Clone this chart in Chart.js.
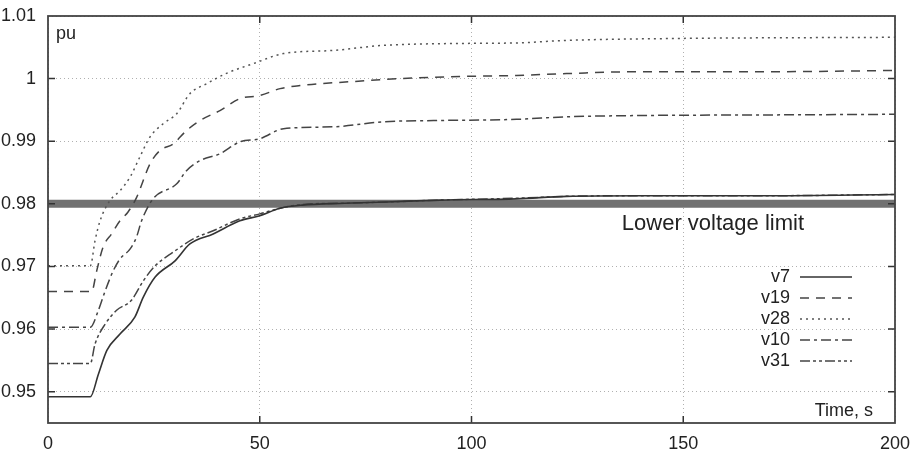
<!DOCTYPE html>
<html>
<head>
<meta charset="utf-8">
<script src="https://cdn.jsdelivr.net/npm/chart.js@4/dist/chart.umd.min.js"></script>
<style>
  html, body { margin: 0; padding: 0; background: #fff; }
  #wrap { width: 911px; height: 469px; position: relative; }
</style>
</head>
<body>
<div id="wrap"><canvas id="voltChart"></canvas></div>
<script>
// time axis ticks and voltage ticks
const xTicks = [0, 50, 100, 150, 200];
const yTicks = [0.95, 0.96, 0.97, 0.98, 0.99, 1.0, 1.01];

// series (time in s, voltage in pu)
const t7  = [0, 10, 11.9, 13.9, 17, 20.5, 22.5, 25.3, 30, 33.5, 39, 45.3, 50, 54.8, 60, 70, 80, 92.6, 110.6, 122.4, 140, 170, 200];
const v7  = [0.9492, 0.9492, 0.9528, 0.9566, 0.9592, 0.9619, 0.9651, 0.9683, 0.9709, 0.9736, 0.9752, 0.9773, 0.9781, 0.9793, 0.9798, 0.9801, 0.9803, 0.9806, 0.9808, 0.9812, 0.9813, 0.9813, 0.9815];

const t19 = [0, 10.3, 11.5, 13, 15, 17, 18.9, 20.9, 24.1, 26.4, 29.6, 32.7, 35.9, 40.6, 45.3, 50, 54.8, 59.5, 71.3, 83.1, 94.9, 110.6, 122.4, 139, 170, 200];
const v19 = [0.9660, 0.9660, 0.9693, 0.9731, 0.9752, 0.9773, 0.9787, 0.9810, 0.9864, 0.9885, 0.9896, 0.9917, 0.9933, 0.9949, 0.9968, 0.9973, 0.9984, 0.9989, 0.9995, 1.0000, 1.0003, 1.0005, 1.0008, 1.0011, 1.0011, 1.0013];

const t28 = [0, 10, 11.1, 12.3, 14.6, 17, 19.4, 21.7, 24.1, 27.2, 30.4, 33.5, 37.5, 42, 48.5, 55.6, 67.3, 79, 94.9, 110.6, 122.4, 146.9, 200];
const v28 = [0.9701, 0.9701, 0.9741, 0.9773, 0.9805, 0.9821, 0.9843, 0.9875, 0.9907, 0.9928, 0.9944, 0.9976, 0.9992, 1.0008, 1.0024, 1.0040, 1.0045, 1.0053, 1.0056, 1.0057, 1.0061, 1.0064, 1.0066];

const t10 = [0, 10, 11.9, 13.5, 15.4, 17, 19.4, 20.9, 22.1, 24.8, 30.4, 32.7, 35.9, 40.6, 45.3, 50, 55.6, 67.3, 79, 91, 110.6, 122.4, 139, 170, 200];
const v10 = [0.9603, 0.9603, 0.9630, 0.9661, 0.9693, 0.9712, 0.9728, 0.9747, 0.9773, 0.9808, 0.9832, 0.9853, 0.9869, 0.9880, 0.9899, 0.9904, 0.9920, 0.9923, 0.9931, 0.9933, 0.9935, 0.9939, 0.9941, 0.9942, 0.9943];

const t31 = [0, 10, 11.1, 13.5, 16.2, 19.7, 22.5, 25.3, 29.6, 34.3, 39, 45.3, 50, 54.8, 60, 70, 80, 92.6, 110.6, 122.4, 140, 170, 200];
const v31 = [0.9545, 0.9545, 0.9576, 0.9608, 0.9630, 0.9646, 0.9677, 0.9701, 0.9723, 0.9744, 0.9757, 0.9776, 0.9784, 0.9793, 0.9799, 0.9801, 0.9803, 0.9806, 0.9809, 0.9812, 0.9813, 0.9813, 0.9815];

const tLimit = [0, 200];
const vLimit = [0.98, 0.98];

const pts = (ts, vs) => ts.map((t, i) => ({ x: t, y: vs[i] }));

const FONT = "'Liberation Sans', Arial, sans-serif";

const series = [
    { label: 'v7',  data: pts(t7, v7),   borderColor: '#333', borderWidth: 1.6, borderDash: [] },
    { label: 'v19', data: pts(t19, v19), borderColor: '#444', borderWidth: 1.5, borderDash: [9, 7] },
    { label: 'v28', data: pts(t28, v28), borderColor: '#555', borderWidth: 1.5, borderDash: [2, 4] },
    { label: 'v10', data: pts(t10, v10), borderColor: '#444', borderWidth: 1.5, borderDash: [10, 4, 3, 4] },
    { label: 'v31', data: pts(t31, v31), borderColor: '#444', borderWidth: 1.5, borderDash: [10, 3, 3, 3, 3, 3] }
];

const decorations = {
    id: 'decorations',
    afterDatasetsDraw(chart) {
        const { ctx, chartArea: a, scales } = chart;
        const xs = scales.x, ys = scales.y;
        ctx.save();

        // inner tick marks
        ctx.strokeStyle = '#333';
        ctx.lineWidth = 1.5;
        ctx.setLineDash([]);
        ctx.beginPath();
        yTicks.forEach(v => {
            if (v === 1.01) return;
            const y = ys.getPixelForValue(v);
            ctx.moveTo(a.left, y); ctx.lineTo(a.left + 7, y);
            ctx.moveTo(a.right, y); ctx.lineTo(a.right - 7, y);
        });
        xTicks.forEach(v => {
            if (v === 0 || v === 200) return;
            const x = xs.getPixelForValue(v);
            ctx.moveTo(x, a.top); ctx.lineTo(x, a.top + 7);
            ctx.moveTo(x, a.bottom); ctx.lineTo(x, a.bottom - 7);
        });
        ctx.stroke();

        // frame
        ctx.strokeStyle = '#444';
        ctx.lineWidth = 1.8;
        ctx.strokeRect(a.left, a.top, a.right - a.left, a.bottom - a.top);

        // texts
        ctx.fillStyle = '#222';
        ctx.font = '18px ' + FONT;
        ctx.textBaseline = 'alphabetic';
        ctx.textAlign = 'left';
        ctx.fillText('pu', a.left + 8, a.top + 23);
        ctx.textAlign = 'right';
        ctx.fillText('Time, s', a.right - 22, a.bottom - 7);

        ctx.font = '22px ' + FONT;
        ctx.textAlign = 'left';
        ctx.fillText('Lower voltage limit', xs.getPixelForValue(135.5), ys.getPixelForValue(0.98) + 26);

        // legend inside the plot
        ctx.font = '18px ' + FONT;
        ctx.textBaseline = 'middle';
        series.forEach((s, i) => {
            const y = a.top + 261 + i * 21;
            ctx.fillStyle = '#222';
            ctx.textAlign = 'right';
            ctx.fillText(s.label, a.right - 105, y);
            ctx.strokeStyle = s.borderColor;
            ctx.lineWidth = s.borderWidth;
            ctx.setLineDash(s.borderDash);
            ctx.beginPath();
            ctx.moveTo(a.right - 95, y);
            ctx.lineTo(a.right - 43, y);
            ctx.stroke();
        });
        ctx.restore();
    }
};

const ctx = document.getElementById('voltChart');

new Chart(ctx, {
    type: 'line',
    data: {
        datasets: [
            ...series.map(s => ({
                label: s.label,
                data: s.data,
                borderColor: s.borderColor,
                borderWidth: s.borderWidth,
                borderDash: s.borderDash,
                pointRadius: 0,
                fill: false,
                cubicInterpolationMode: 'monotone',
                order: 1
            })),
            {
                label: 'limit',
                data: pts(tLimit, vLimit),
                borderColor: '#717171',
                borderWidth: 8,
                pointRadius: 0,
                fill: false,
                order: 10
            }
        ]
    },
    options: {
        responsive: true,
        maintainAspectRatio: false,
        animation: false,
        layout: { padding: { top: 16, right: 16, left: 0, bottom: 0 } },
        plugins: {
            legend: { display: false },
            tooltip: { enabled: false }
        },
        scales: {
            x: {
                type: 'linear',
                min: 0,
                max: 200,
                afterBuildTicks: scale => { scale.ticks = xTicks.map(v => ({ value: v })); },
                afterFit: scale => {
                    scale.height = 46;
                    scale.paddingLeft = 0;
                    scale.paddingRight = 0;
                },
                grid: { color: '#b0b0b0', lineWidth: 1, drawTicks: false },
                border: { display: false, dash: [1, 3] },
                ticks: {
                    padding: 10,
                    color: '#222',
                    font: { family: FONT, size: 18 },
                    maxRotation: 0
                }
            },
            y: {
                type: 'linear',
                min: 0.945,
                max: 1.01,
                afterBuildTicks: scale => { scale.ticks = yTicks.map(v => ({ value: v })); },
                afterFit: scale => {
                    scale.width = 48;
                    scale.paddingTop = 0;
                    scale.paddingBottom = 0;
                },
                grid: { color: '#b0b0b0', lineWidth: 1, drawTicks: false },
                border: { display: false, dash: [1, 3] },
                ticks: {
                    padding: 12,
                    color: '#222',
                    font: { family: FONT, size: 18 },
                    callback: v => String(Number(v.toFixed(2)))
                }
            }
        }
    },
    plugins: [decorations]
});
</script>
</body>
</html>
